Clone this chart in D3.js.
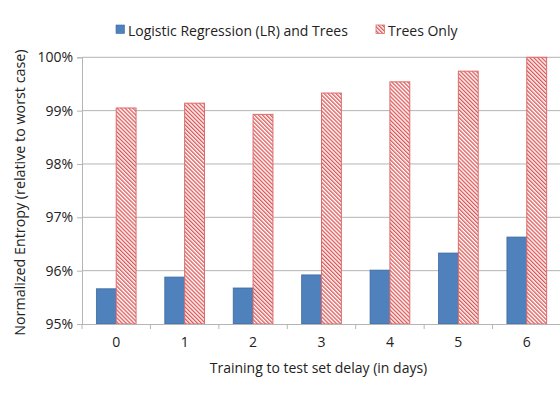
<!DOCTYPE html>
<html><head><meta charset="utf-8">
<script src="https://cdn.jsdelivr.net/npm/d3@7"></script>
<style>body{margin:0;background:#fff;} svg{display:block;} text{font-family:"Open Sans",sans-serif;fill:#222;}</style>
</head><body>
<script>
const categories = ["0","1","2","3","4","5","6"];
const seriesNames = ["Logistic Regression (LR) and Trees","Trees Only"];
const lrTrees = [95.66, 95.88, 95.675, 95.92, 96.01, 96.33, 96.63];
const treesOnly = [99.05, 99.14, 98.93, 99.33, 99.54, 99.74, 100.0];
const yTicks = [95, 96, 97, 98, 99, 100];

const W = 560, H = 394;
const svg = d3.select("body").append("svg").attr("width", W).attr("height", H);
const defs = svg.append("defs");
const pat = defs.append("pattern").attr("id","hatch").attr("patternUnits","userSpaceOnUse")
  .attr("width",2.8).attr("height",2.8).attr("patternTransform","rotate(-45)");
pat.append("rect").attr("width",2.8).attr("height",2.8).attr("fill","#fff");
pat.append("rect").attr("width",1.3).attr("height",2.8).attr("fill","#db5555");

const mLeft = 82, mRight = 561, mTop = 57.3, mBottom = 324;
const x = d3.scaleBand().domain(categories).range([mLeft, mRight]).padding(0);
const y = d3.scaleLinear().domain([95, 100]).range([mBottom, mTop]);
const barW = x.bandwidth() * 0.29;

// gridlines
svg.append("g").selectAll("line").data(yTicks.filter(t => t > 95)).join("line")
  .attr("x1", mLeft).attr("x2", W).attr("y1", d => y(d)).attr("y2", d => y(d))
  .attr("stroke", "#b5b5b5").attr("stroke-width", 1);

// y axis
const yAxis = d3.axisLeft(y).tickValues(yTicks).tickFormat(d => d + "%").tickSize(5).tickPadding(4);
const gy = svg.append("g").attr("transform", `translate(${mLeft},0)`).call(yAxis);
gy.select(".domain").attr("stroke", "#b5b5b5");
gy.selectAll(".tick line").attr("stroke", "#b5b5b5");
gy.selectAll(".tick text").style("font-size", "14px").attr("fill", "#222");

// bars
const groups = svg.append("g").selectAll("g").data(categories).join("g");
groups.append("rect")
  .attr("x", (d) => x(d) + x.bandwidth()/2 - barW)
  .attr("y", (d,i) => y(lrTrees[i]))
  .attr("width", barW)
  .attr("height", (d,i) => mBottom - y(lrTrees[i]))
  .attr("fill", "#4f81bd").attr("stroke", "#3c6aa0").attr("stroke-width", 0.8);
groups.append("rect")
  .attr("x", (d) => x(d) + x.bandwidth()/2)
  .attr("y", (d,i) => y(treesOnly[i]))
  .attr("width", barW)
  .attr("height", (d,i) => mBottom - y(treesOnly[i]))
  .attr("fill", "url(#hatch)").attr("stroke", "#dd6b6b").attr("stroke-width", 1);

// x axis
const xAxis = d3.axisBottom(x).tickSize(0).tickPadding(13);
const gx = svg.append("g").attr("transform", `translate(0,${mBottom})`).call(xAxis);
gx.select(".domain").attr("stroke", "#b5b5b5").attr("d", `M${mLeft},0.5H${W}`);
gx.selectAll(".tick text").style("font-size", "14px").attr("fill", "#222");
// boundary ticks
svg.append("g").selectAll("line").data(categories).join("line")
  .attr("x1", d => x(d)).attr("x2", d => x(d))
  .attr("y1", mBottom).attr("y2", mBottom + 5)
  .attr("stroke", "#b5b5b5");

// axis titles
svg.append("text").attr("x", (mLeft + mRight)/2 - 3).attr("y", 373)
  .attr("text-anchor", "middle").style("font-size", "14px")
  .text("Training to test set delay (in days)");
svg.append("text").attr("transform", `translate(25,${(mTop+mBottom)/2 + 2}) rotate(-90)`)
  .attr("text-anchor", "middle").style("font-size", "14.3px")
  .text("Normalized Entropy (relative to worst case)");

// legend
const leg = svg.append("g");
leg.append("rect").attr("x", 116).attr("y", 25).attr("width", 8.5).attr("height", 8.5)
  .attr("fill", "#4f81bd").attr("stroke", "#3c6aa0").attr("stroke-width", 0.6);
leg.append("text").attr("x", 128).attr("y", 36).style("font-size", "14px").text(seriesNames[0]);
leg.append("rect").attr("x", 376).attr("y", 25).attr("width", 8.5).attr("height", 8.5)
  .attr("fill", "url(#hatch)").attr("stroke", "#dd6b6b").attr("stroke-width", 0.8);
leg.append("text").attr("x", 388).attr("y", 36).style("font-size", "14px").text(seriesNames[1]);
</script>
</body></html>
